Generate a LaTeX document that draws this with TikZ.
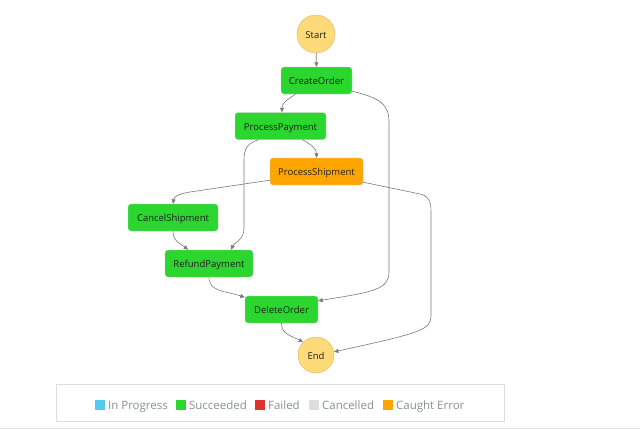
\documentclass[tikz,border=0pt]{standalone}
\usepackage{fontspec}
\setmainfont{Open Sans}
\usetikzlibrary{arrows.meta}
\definecolor{succ}{HTML}{2BD62E}
\definecolor{caught}{HTML}{FFA500}
\definecolor{inprog}{HTML}{53C9ED}
\definecolor{failed}{HTML}{DE322F}
\definecolor{cancel}{HTML}{DDDDDD}
\definecolor{terminal}{HTML}{FFDA79}
\definecolor{terminalrim}{HTML}{D9B767}
\definecolor{edgecol}{HTML}{7A7A7A}
\definecolor{legendtxt}{HTML}{879196}
\definecolor{framecol}{HTML}{DDDDDD}
\tikzset{
  state/.style={draw=black!22, rounded corners=3pt, minimum height=27pt, inner sep=0pt,
    font=\fontsize{9.5}{10}\selectfont, text=black!88, text height=8pt, text depth=0pt},
  ok/.style={state, fill=succ},
  caughtstate/.style={state, fill=caught},
  terminalnode/.style={circle, draw=terminalrim, fill=terminal, inner sep=0pt,
    font=\fontsize{9.5}{10}\selectfont, text=black!88, text height=8pt, text depth=0pt},
  flow/.style={draw=edgecol, line width=0.6pt, -{Triangle[length=4.5pt,width=4pt]}},
  swatch/.style={minimum width=10pt, minimum height=10pt, inner sep=0pt, anchor=west},
  legendlabel/.style={anchor=west, inner sep=0pt, text=legendtxt,
    font=\fontsize{11.5}{12}\selectfont, text height=9pt, text depth=0pt}
}
\begin{document}
\begin{tikzpicture}[x=1pt,y=-1pt]
\useasboundingbox (0,0) rectangle (640,429);
\fill[white] (0,0) rectangle (640,429);

% states
\node[terminalnode, minimum size=38pt] (st) at (316,34) {Start};
\node[ok, minimum width=71pt] (co) at (316.5,80.5) {CreateOrder};
\node[ok, minimum width=91pt] (pp) at (280.5,126) {ProcessPayment};
\node[caughtstate, minimum width=93pt] (ps) at (316.5,171.5) {ProcessShipment};
\node[ok, minimum width=90pt] (cs) at (173,217.5) {CancelShipment};
\node[ok, minimum width=88pt] (rp) at (209,263.5) {RefundPayment};
\node[ok, minimum width=73pt] (do) at (281.5,309.5) {DeleteOrder};
\node[terminalnode, minimum size=36pt] (en) at (316,355) {End};

% transitions
\draw[flow] (st) -- (co);
\draw[flow] ([xshift=-21pt]co.south) .. controls +(-9,6) and +(0,-9) .. ([xshift=1.5pt]pp.north);
\draw[flow] ([yshift=3pt]co.south east) .. controls (380,98) and (389,104) .. (389,122)
  -- (389,272) .. controls (389,290) and (372,292) .. ([yshift=-5pt]do.north east);
\draw[flow] ([xshift=22pt]pp.south) .. controls +(9,5) and +(0,-9) .. (ps.north);
\draw[flow] ([xshift=-22pt]pp.south) .. controls (248,143) and (244,148) .. (244,160)
  -- (244,228) .. controls (244,240) and (234,243) .. ([xshift=22pt]rp.north);
\draw[flow] ([yshift=5pt]ps.south west) -- (190,192) .. controls (178,194) and (174,197) .. (cs.north);
\draw[flow] ([yshift=3pt]ps.south east) -- (420,194) .. controls (428,196) and (431,200) .. (431,212)
  -- (431,316) .. controls (431,330) and (420,333) .. (en.10);
\draw[flow] (cs.south) .. controls +(0,11) and +(-8,-7) .. ([xshift=-21pt]rp.north);
\draw[flow] (rp.south) .. controls (209,292) and (226,291) .. ([yshift=-1.5pt]do.north west);
\draw[flow] (do.south) .. controls (281,334) and (292,336) .. (en.135);

% legend
\node[draw=framecol, line width=0.8pt, minimum width=448pt, minimum height=37pt, inner sep=0pt] (legend) at (280,402.5) {};
\node[swatch, fill=inprog] (sw1) at (95,405) {};
\node[legendlabel] (lb1) at ([xshift=2.5pt]sw1.east) {In Progress};
\node[swatch, fill=succ] (sw2) at (176,405) {};
\node[legendlabel] (lb2) at ([xshift=2.5pt]sw2.east) {Succeeded};
\node[swatch, fill=failed] (sw3) at (255,405) {};
\node[legendlabel] (lb3) at ([xshift=2.5pt]sw3.east) {Failed};
\node[swatch, fill=cancel] (sw4) at (309,405) {};
\node[legendlabel] (lb4) at ([xshift=2.5pt]sw4.east) {Cancelled};
\node[swatch, fill=caught] (sw5) at (383,405) {};
\node[legendlabel] (lb5) at ([xshift=2.5pt]sw5.east) {Caught Error};

% page rule
\draw[draw=black!10, line width=1pt] (0,428) coordinate (ruleL) -- (640,428) coordinate (ruleR);
\end{tikzpicture}
\end{document}
